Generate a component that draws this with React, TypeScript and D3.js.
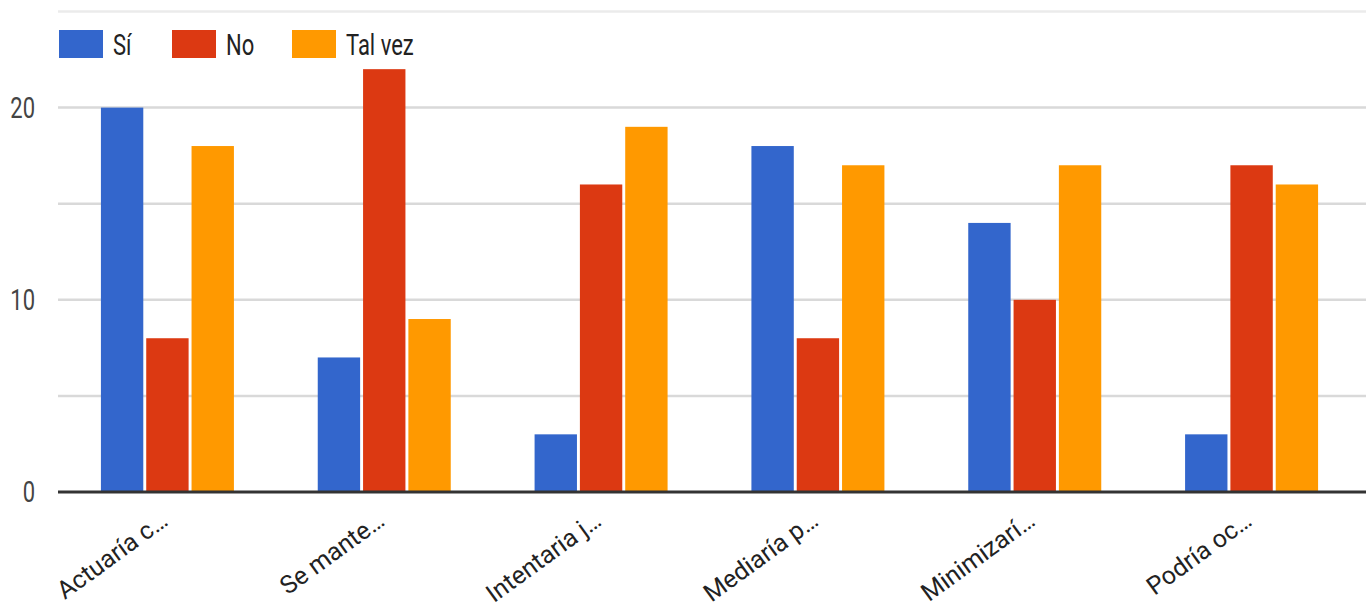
import React from "react";
import * as d3 from "d3";

const categories = ["Actuaría c…", "Se mante…", "Intentaria j…", "Mediaría p…", "Minimizarí…", "Podría oc…"];
const seriesNames = ["Sí", "No", "Tal vez"];
const siValues = [20, 7, 3, 18, 14, 3];
const noValues = [8, 22, 16, 8, 10, 17];
const talVezValues = [18, 9, 19, 17, 17, 16];
const gridTicks = [0, 5, 10, 15, 20, 25];
const labelTicks = [0, 10, 20];
const colors = ["#3366cc", "#dc3912", "#ff9900"];

const W = 1366;
const H = 614;
const SY = 1.35;
const FONT = "Roboto, Arial, sans-serif";

export default function App() {
  const series = [siValues, noValues, talVezValues];
  const x0 = d3.scaleBand<string>().domain(categories).range([59, 1360]).paddingInner(0).paddingOuter(0);
  const groupW = 133;
  const x1 = d3.scaleBand<string>().domain(seriesNames).range([0, groupW]).paddingInner(0.065).paddingOuter(0);
  const y = d3.scaleLinear().domain([0, 25]).range([492, 11.5]);
  const legendOffsets = [0, 113, 233];

  return (
    <svg width={W} height={H} style={{ position: "absolute", left: 0, top: 0, background: "#fff" }} fontFamily={FONT}>
      <rect width={W} height={H} fill="#fff" />
      {gridTicks.filter((t) => t !== 0).map((t) => (
        <line key={t} x1={58} x2={W} y1={y(t)} y2={y(t)} stroke={t === 25 ? "#ebebeb" : "#d9d9d9"} strokeWidth={2.5} />
      ))}
      {labelTicks.map((t) => (
        <text key={t} transform={`translate(35,${y(t)}) scale(1,${SY})`} textAnchor="end" dominantBaseline="central" fontSize={22} fill="#444">
          {t}
        </text>
      ))}
      {categories.map((c, i) => {
        const gx = (x0(c) as number) + (x0.bandwidth() - groupW) / 2;
        return (
          <g key={c}>
            {seriesNames.map((s, j) => {
              const v = series[j][i];
              return (
                <rect key={s} x={gx + (x1(s) as number)} y={y(v)} width={x1.bandwidth()} height={y(0) - y(v)} fill={colors[j]} />
              );
            })}
          </g>
        );
      })}
      <line x1={58} x2={W} y1={y(0)} y2={y(0)} stroke="#333" strokeWidth={3} />
      {categories.map((c) => {
        const cx = (x0(c) as number) + x0.bandwidth() / 2;
        return (
          <text key={c} transform={`translate(${cx + 2},524) rotate(-36)`} textAnchor="end" fontSize={25} fill="#222">
            {c}
          </text>
        );
      })}
      {seriesNames.map((s, j) => (
        <g key={s} transform={`translate(${59 + legendOffsets[j]},30)`}>
          <rect width={44} height={28} fill={colors[j]} />
          <text transform={`translate(54,25) scale(1,${SY})`} fontSize={22} fill="#222">
            {s}
          </text>
        </g>
      ))}
    </svg>
  );
}
